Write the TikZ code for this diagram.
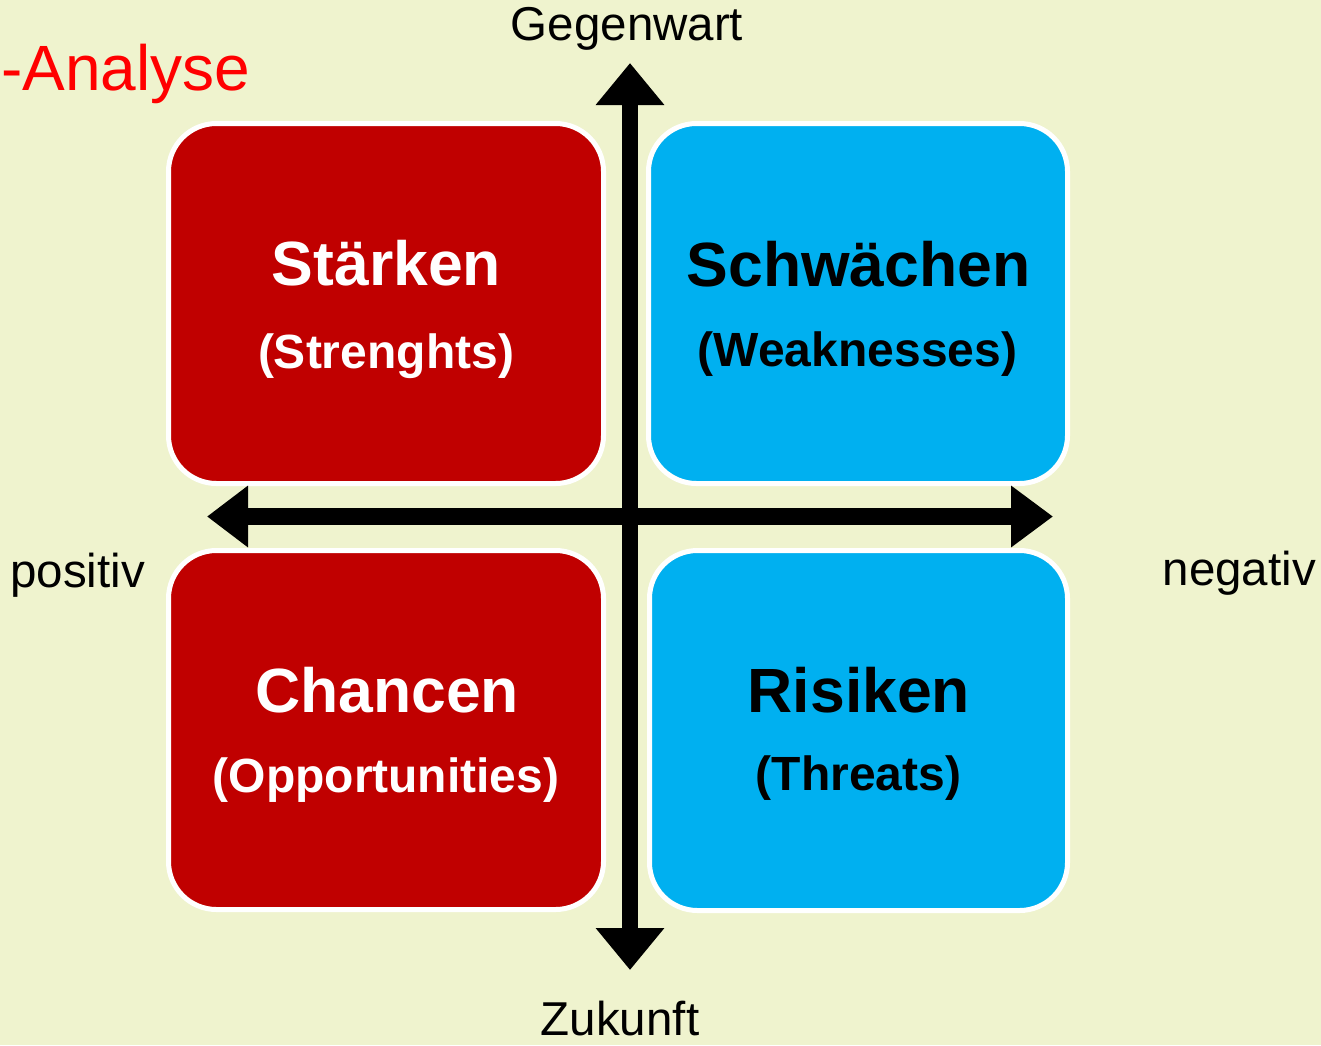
\documentclass[tikz,border=0pt]{standalone}
\usepackage{fontspec}
\setmainfont{Liberation Sans}
\usetikzlibrary{arrows.meta}
\definecolor{bg}{RGB}{239,243,206}
\definecolor{swred}{RGB}{192,0,0}
\definecolor{swblue}{RGB}{0,176,240}
\begin{document}
\begin{tikzpicture}[x=1pt,y=-1pt,
  quad/.style={draw=white,line width=5pt,rounded corners=48pt,inner sep=0pt,outer sep=0pt},
  head/.style={font=\fontsize{62.5}{70}\selectfont\bfseries,inner sep=0pt,anchor=base},
  sub/.style={font=\fontsize{48}{54}\selectfont\bfseries,inner sep=0pt,anchor=base},
  axislabel/.style={font=\fontsize{47.5}{52}\selectfont,inner sep=0pt,text=black},
  vaxis/.style={line width=16pt,{Triangle[length=42pt,width=66pt]}-{Triangle[length=42pt,width=66pt]}},
  haxis/.style={line width=17pt,{Triangle[length=41pt,width=59pt]}-{Triangle[length=42pt,width=59pt]}}
]
\fill[bg] (0,0) rectangle (1321,1045);
\useasboundingbox (0,0) rectangle (1321,1045);

% quadrants
\node[quad,fill=swred,minimum width=435pt,minimum height=360pt] (qs) at (386,303.5) {};
\node[quad,fill=swblue,minimum width=419pt,minimum height=360pt] (qw) at (858,303.5) {};
\node[quad,fill=swred,minimum width=435pt,minimum height=359pt] (qo) at (386,730) {};
\node[quad,fill=swblue,minimum width=418pt,minimum height=360pt] (qt) at (858.5,730.5) {};

% axes
\coordinate (gtop) at (630,63);
\coordinate (gbot) at (630,970);
\coordinate (gleft) at (207,516.5);
\coordinate (gright) at (1053,516.5);
\draw[vaxis] (gbot) -- (gtop);
\draw[haxis] (gleft) -- (gright);

% quadrant texts
\node[head,text=white] (ts) at (386.5,285) {Stärken};
\node[sub,text=white] (ts2) at (386,368) {(Strenghts)};
\node[head,text=black] (tw) at (858.5,286) {Schwächen};
\node[sub,text=black] (tw2) at (857.5,366) {(Weaknesses)};
\node[head,text=white] (to) at (387,712) {Chancen};
\node[sub,text=white] (to2) at (386,792) {(Opportunities)};
\node[head,text=black] (tt) at (859,712) {Risiken};
\node[sub,text=black] (tt2) at (858.5,790) {(Threats)};

% axis labels
\node[axislabel,anchor=base] (lg) at (627,40) {Gegenwart};
\node[axislabel,anchor=base] (lz) at (620,1035) {Zukunft};
\node[axislabel,anchor=base west] (lp) at (10,587) {positiv};
\node[axislabel,anchor=base east] (ln) at (1316,585) {negativ};

% title
\node[font=\fontsize{64}{72}\selectfont,text=red,anchor=base west,inner sep=0pt] (title) at (1,90) {-Analyse};
\end{tikzpicture}
\end{document}
